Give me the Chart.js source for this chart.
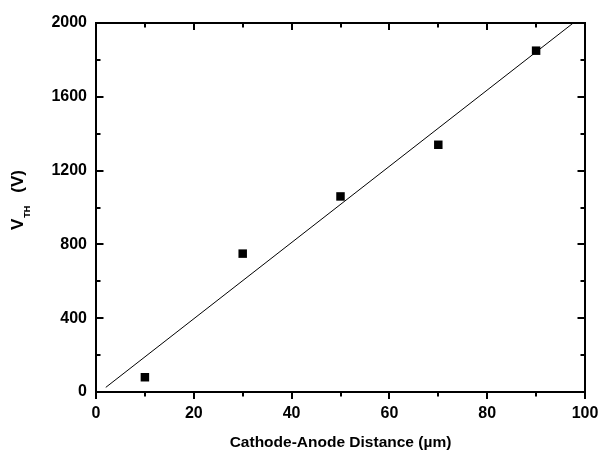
<!DOCTYPE html>
<html>
<head>
<meta charset="utf-8">
<script src="https://cdn.jsdelivr.net/npm/chart.js@4/dist/chart.umd.min.js"></script>
<style>
  html, body { margin: 0; padding: 0; background: #fff; }
  #wrap { width: 599px; height: 457px; position: relative; }
</style>
</head>
<body>
<div id="wrap"><canvas id="vthChart"></canvas></div>
<script>
// measured points
const distances = [10, 30, 50, 70, 90];
const thresholdVoltages = [80, 750, 1060, 1340, 1850];

// linear fit line endpoints (as drawn)
const fitX = [2, 97.6];
const fitY = [25, 2000];

// axes
const xTicks = [0, 20, 40, 60, 80, 100];
const yTicks = [0, 400, 800, 1200, 1600, 2000];
const xMinorTicks = [10, 30, 50, 70, 90];
const yMinorTicks = [200, 600, 1000, 1400, 1800];

const xTitle = 'Cathode-Anode Distance (\u00b5m)';
const FONT = '"Liberation Sans", Arial, sans-serif';

const framePlugin = {
    id: 'frame',
    afterDraw(chart) {
        const ctx = chart.ctx;
        const a = chart.chartArea;
        const xs = chart.scales.x;
        const ys = chart.scales.y;

        ctx.save();
        ctx.strokeStyle = '#000';
        ctx.lineWidth = 2;
        ctx.strokeRect(a.left, a.top, a.right - a.left, a.bottom - a.top);

        const tick = (x1, y1, x2, y2) => {
            ctx.beginPath();
            ctx.moveTo(x1, y1);
            ctx.lineTo(x2, y2);
            ctx.stroke();
        };

        // x ticks: bottom outward, top inward
        const xMarks = (vals, len) => vals.forEach(v => {
            const px = Math.round(xs.getPixelForValue(v));
            tick(px, a.bottom, px, a.bottom + len);
            tick(px, a.top, px, a.top + len);
        });
        xMarks(xTicks, 7);
        xMarks(xMinorTicks, 4.5);

        // y ticks: left and right inward
        const yMarks = (vals, len) => vals.forEach(v => {
            const py = Math.round(ys.getPixelForValue(v));
            tick(a.left, py, a.left + len, py);
            tick(a.right, py, a.right - len, py);
        });
        yMarks(yTicks, 7.5);
        yMarks(yMinorTicks, 4.5);

        // x title
        ctx.fillStyle = '#000';
        ctx.font = 'bold 15.5px ' + FONT;
        ctx.textAlign = 'center';
        ctx.textBaseline = 'middle';
        ctx.fillText(xTitle, (a.left + a.right) / 2, 443);

        // y title with subscript
        ctx.translate(23, 230);
        ctx.rotate(-Math.PI / 2);
        ctx.textAlign = 'left';
        ctx.textBaseline = 'alphabetic';
        ctx.font = 'bold 17px ' + FONT;
        ctx.fillText('V', 0, 0);
        const wV = ctx.measureText('V').width;
        ctx.font = 'bold 9px ' + FONT;
        ctx.fillText('TH', wV + 1, 7);
        const wTH = ctx.measureText('TH').width;
        ctx.font = 'bold 17px ' + FONT;
        ctx.fillText('(V)', wV + 1 + wTH + 13, 0);
        ctx.restore();
    }
};

new Chart(document.getElementById('vthChart'), {
    type: 'scatter',
    data: {
        datasets: [{
            label: 'VTH',
            data: distances.map((d, i) => ({ x: d, y: thresholdVoltages[i] })),
            pointStyle: 'rect',
            pointRadius: 6,
            pointBorderWidth: 0,
            backgroundColor: '#000',
            borderColor: '#000'
        }, {
            label: 'fit',
            type: 'line',
            data: fitX.map((x, i) => ({ x: x, y: fitY[i] })),
            borderColor: '#000',
            borderWidth: 1,
            pointRadius: 0,
            fill: false
        }]
    },
    options: {
        responsive: true,
        maintainAspectRatio: false,
        animation: false,
        layout: { padding: { top: 23, right: 14, left: 0, bottom: 0 } },
        plugins: {
            legend: { display: false },
            tooltip: { enabled: false }
        },
        scales: {
            x: {
                type: 'linear',
                min: 0,
                max: 100,
                afterFit: s => { s.height = 65; s.paddingRight = 0; s.paddingLeft = 0; },
                afterBuildTicks: s => { s.ticks = xTicks.map(v => ({ value: v })); },
                grid: { display: false, drawTicks: false },
                border: { display: false },
                ticks: {
                    color: '#000',
                    padding: 12,
                    maxRotation: 0,
                    callback: v => String(v),
                    font: { family: FONT, size: 16, weight: 'bold' }
                }
            },
            y: {
                type: 'linear',
                min: 0,
                max: 2000,
                afterFit: s => { s.width = 96; s.paddingTop = 0; s.paddingBottom = 0; },
                afterBuildTicks: s => { s.ticks = yTicks.map(v => ({ value: v })); },
                grid: { display: false, drawTicks: false },
                border: { display: false },
                ticks: {
                    color: '#000',
                    padding: 9,
                    callback: v => String(v),
                    font: { family: FONT, size: 16, weight: 'bold' }
                }
            }
        }
    },
    plugins: [framePlugin]
});
</script>
</body>
</html>
